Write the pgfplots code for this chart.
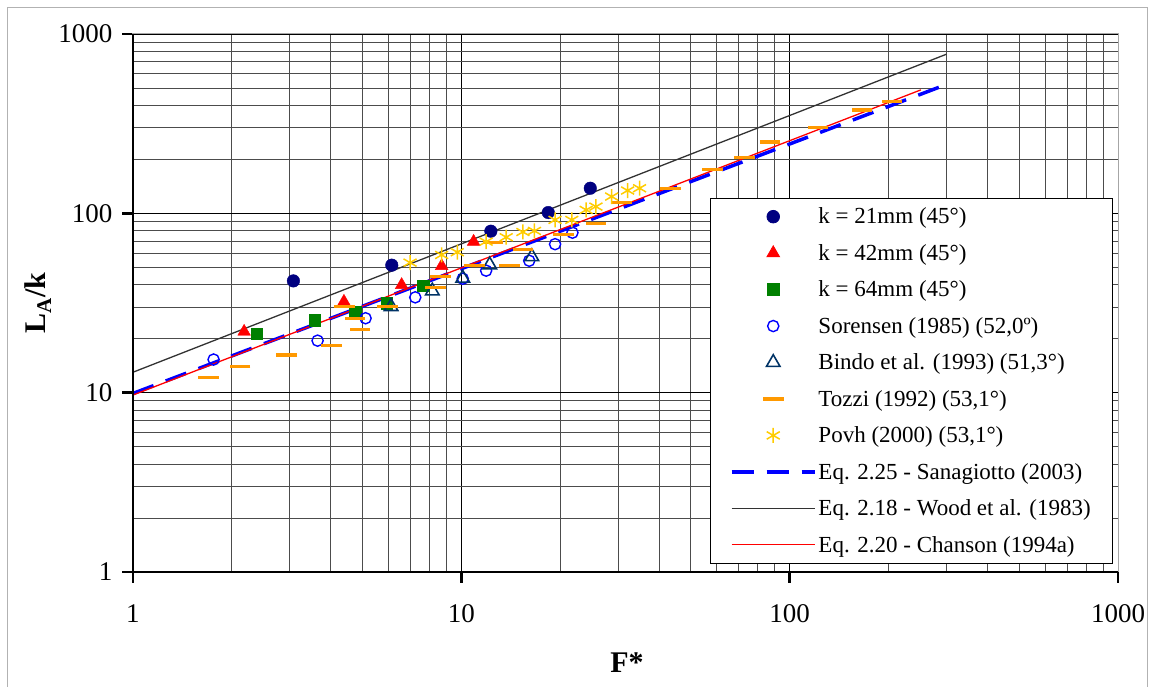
\documentclass[border=0pt]{standalone}
\usepackage{fontspec}
\setmainfont{Liberation Serif}
\usepackage{pgfplots}
\pgfplotsset{compat=1.18}

\definecolor{navy}{RGB}{0,0,128}
\definecolor{kgreen}{RGB}{0,128,0}
\definecolor{bindo}{RGB}{0,51,102}
\definecolor{tozzi}{RGB}{255,153,0}
\definecolor{povh}{RGB}{255,204,0}
\definecolor{wood}{RGB}{50,50,50}

\pgfplotsset{
  lm/.style={only marks, legend image code/.code={%
    \draw[mark repeat=2,mark phase=2] plot coordinates {(0pt,0pt) (41.5pt,0pt) (83pt,0pt)};}},
  ll/.style={legend image code/.code={\draw (0pt,0pt) -- (83pt,0pt);}},
}

\begin{document}
\begin{tikzpicture}
\useasboundingbox (0,0) rectangle (1154pt,687pt);
\draw[gray!60, line width=1pt] (7.5pt,-5pt) rectangle (1147pt,679pt);
\begin{axis}[
  at={(133pt,115pt)}, anchor=south west,
  scale only axis, width=985pt, height=538pt,
  xmode=log, ymode=log,
  xmin=1, xmax=1000, ymin=1, ymax=1000,
  xtick={1,10,100,1000}, xticklabels={1,10,100,1000},
  ytick={1,10,100,1000}, yticklabels={1,10,100,1000},
  tick pos=left, tick align=outside,
  major tick length=11pt, minor tick length=0pt,
  grid=both,
  major grid style={black, line width=0.9pt},
  minor grid style={black!70, line width=0.9pt},
  axis line style={gray!70, line width=1pt},
  major tick style={black, line width=2.5pt},
  ticklabel style={font=\fontsize{27}{27}\selectfont},
  xticklabel style={yshift=-18pt},
  yticklabel style={xshift=-6pt},
  xlabel={\textbf{F*}},
  ylabel={\textbf{L\textsubscript{A}/k}},
  xlabel style={font=\fontsize{30}{30}\selectfont, at={(axis description cs:0.5015,-0.169)}, anchor=center},
  ylabel style={font=\fontsize{30}{30}\selectfont, at={(axis description cs:-0.0964,0.5)}, anchor=center},
  clip mode=individual,
  legend cell align=left,
  legend style={at={(axis description cs:0.995,0.015)}, anchor=south east,
    draw=black, line width=0.8pt, fill=white,
    font=\fontsize{23}{23}\selectfont, row sep=15pt,
    inner xsep=20pt, inner ysep=8pt},
]
% reference lines first, legend entries added after the data
\addplot[forget plot, blue, line width=3.5pt, dash pattern=on 22pt off 13pt] coordinates {(1,9.9) (296,518)};
\addplot[forget plot, wood, line width=1.3pt] coordinates {(1,13.0) (300,771)};
\addplot[forget plot, red, line width=1.3pt] coordinates {(1,9.7) (251,488)};

\addplot[lm, mark=*, navy, mark size=6.3pt] coordinates {
(3.08,42.0) (6.14,51.4) (12.3,79.5) (18.4,101) (24.7,138)};
\addlegendentry{k = 21mm (45°)}
\addplot[lm, mark=triangle*, red, mark size=7.3pt] coordinates {
(2.18,21.9) (4.39,32.2) (6.58,39.9) (8.71,50.9) (10.9,69.5)};
\addlegendentry{k = 42mm (45°)}
\addplot[lm, mark=square*, kgreen, mark size=5.8pt] coordinates {
(2.38,21.3) (3.58,25.4) (4.75,28.2) (5.92,31.5) (7.66,39.5)};
\addlegendentry{k = 64mm (45°)}
\addplot[lm, mark=o, blue, mark size=5.6pt, line width=1.4pt] coordinates {
(1.76,15.3) (3.65,19.5) (5.11,26.0) (7.24,34.0) (10.1,43.2) (11.9,47.9) (16.1,54.4) (19.3,67.3) (21.8,78.0)};
\addlegendentry{Sorensen (1985) (52,0º)}
\addplot[lm, mark=triangle, bindo, mark size=7.8pt, line width=1.6pt] coordinates {
(6.11,30.2) (8.16,36.9) (10.1,43.5) (12.2,51.6) (16.4,57.3)};
\addlegendentry{Bindo et al. (1993) (51,3°)}
\addplot[lm, mark=-, tozzi, mark size=10.3pt, line width=3.3pt] coordinates {
(1.70,12.1) (2.12,14.0) (2.94,16.2) (4.03,18.3) (4.91,22.6) (4.75,26.0) (4.40,30.2)
(5.95,30.1) (8.35,38.5) (8.65,44.5) (10.95,51.3) (12.5,68.7) (14.0,51.4) (15.4,63.1)
(20.5,76.1) (25.7,88.1) (30.8,114.7) (43.3,138) (58.2,176) (72.8,205) (87.2,250)
(122,301) (166,377) (205,420)};
\addlegendentry{Tozzi (1992) (53,1°)}
\addplot[lm, mark=asterisk, povh, mark size=7.5pt, line width=1.5pt] coordinates {
(6.98,53.1) (8.71,58.6) (9.72,60.7) (11.9,69.5) (13.7,73.6) (15.4,78.7) (16.7,79.8)
(19.3,91.9) (21.7,91.9) (24.0,104.5) (25.7,109) (28.7,124) (32.1,134) (34.9,138)};
\addlegendentry{Povh (2000) (53,1°)}

\addlegendimage{ll, draw=blue, line width=3.5pt, dash pattern=on 22pt off 13pt}
\addlegendentry{Eq. 2.25 - Sanagiotto (2003)}
\addlegendimage{ll, draw=wood, line width=1.3pt}
\addlegendentry{Eq. 2.18 - Wood et al. (1983)}
\addlegendimage{ll, draw=red, line width=1.3pt}
\addlegendentry{Eq. 2.20 - Chanson (1994a)}

% heavy left and bottom axis lines
\draw[black, line width=2.8pt] (rel axis cs:0,1) -- (rel axis cs:0,0) -- (rel axis cs:1,0);
\end{axis}
\end{tikzpicture}
\end{document}
